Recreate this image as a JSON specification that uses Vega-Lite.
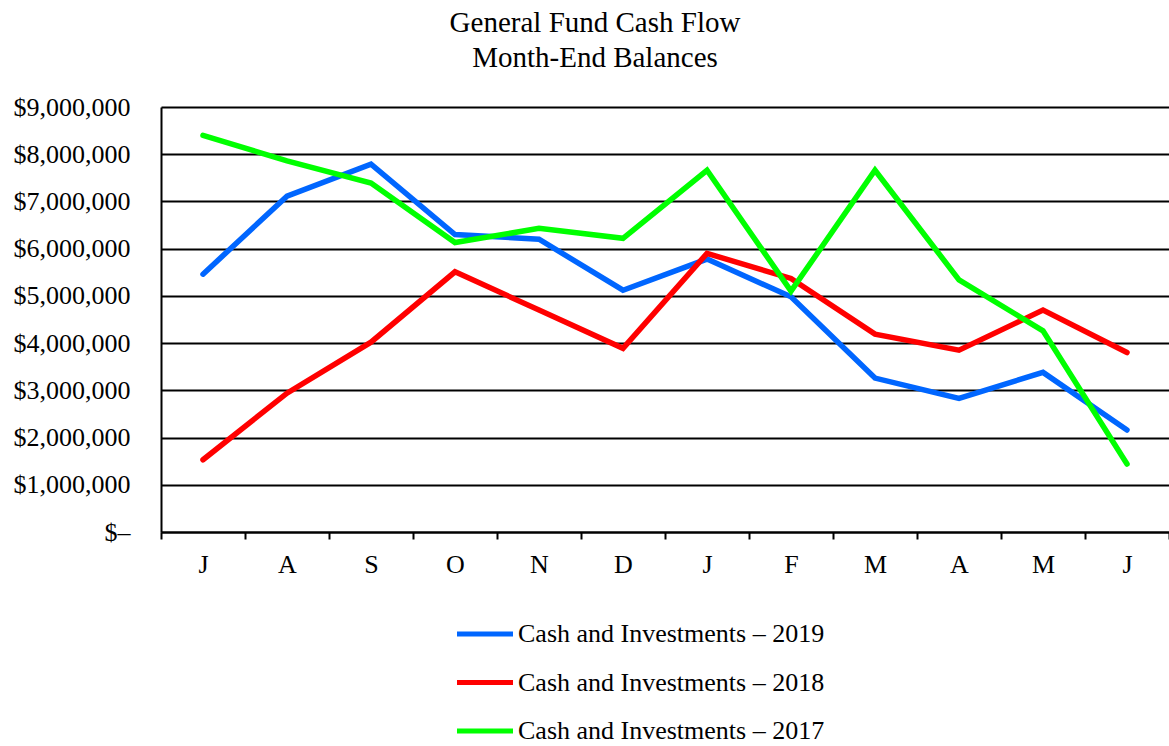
{
  "$schema": "https://vega.github.io/schema/vega-lite/v6.json",
  "width": 1008,
  "height": 425,
  "autosize": {"type": "none"},
  "padding": {"left": 161, "top": 107, "right": 0, "bottom": 214},
  "background": "white",
  "title": {
    "text": ["General Fund Cash Flow", "Month-End Balances"],
    "font": "Liberation Serif",
    "fontSize": 29,
    "fontWeight": "normal",
    "color": "black",
    "lineHeight": 35,
    "anchor": "middle",
    "dx": -70,
    "offset": 21
  },
  "data": {
    "values": [
      {"series": "Cash and Investments – 2019", "month": "Jul", "balance": 5460000},
      {"series": "Cash and Investments – 2019", "month": "Aug", "balance": 7110000},
      {"series": "Cash and Investments – 2019", "month": "Sep", "balance": 7790000},
      {"series": "Cash and Investments – 2019", "month": "Oct", "balance": 6300000},
      {"series": "Cash and Investments – 2019", "month": "Nov", "balance": 6200000},
      {"series": "Cash and Investments – 2019", "month": "Dec", "balance": 5120000},
      {"series": "Cash and Investments – 2019", "month": "Jan", "balance": 5780000},
      {"series": "Cash and Investments – 2019", "month": "Feb", "balance": 4980000},
      {"series": "Cash and Investments – 2019", "month": "Mar", "balance": 3260000},
      {"series": "Cash and Investments – 2019", "month": "Apr", "balance": 2830000},
      {"series": "Cash and Investments – 2019", "month": "May", "balance": 3380000},
      {"series": "Cash and Investments – 2019", "month": "Jun", "balance": 2160000},
      {"series": "Cash and Investments – 2018", "month": "Jul", "balance": 1530000},
      {"series": "Cash and Investments – 2018", "month": "Aug", "balance": 2940000},
      {"series": "Cash and Investments – 2018", "month": "Sep", "balance": 4020000},
      {"series": "Cash and Investments – 2018", "month": "Oct", "balance": 5510000},
      {"series": "Cash and Investments – 2018", "month": "Nov", "balance": 4700000},
      {"series": "Cash and Investments – 2018", "month": "Dec", "balance": 3890000},
      {"series": "Cash and Investments – 2018", "month": "Jan", "balance": 5900000},
      {"series": "Cash and Investments – 2018", "month": "Feb", "balance": 5370000},
      {"series": "Cash and Investments – 2018", "month": "Mar", "balance": 4190000},
      {"series": "Cash and Investments – 2018", "month": "Apr", "balance": 3850000},
      {"series": "Cash and Investments – 2018", "month": "May", "balance": 4700000},
      {"series": "Cash and Investments – 2018", "month": "Jun", "balance": 3800000},
      {"series": "Cash and Investments – 2017", "month": "Jul", "balance": 8400000},
      {"series": "Cash and Investments – 2017", "month": "Aug", "balance": 7860000},
      {"series": "Cash and Investments – 2017", "month": "Sep", "balance": 7390000},
      {"series": "Cash and Investments – 2017", "month": "Oct", "balance": 6130000},
      {"series": "Cash and Investments – 2017", "month": "Nov", "balance": 6430000},
      {"series": "Cash and Investments – 2017", "month": "Dec", "balance": 6220000},
      {"series": "Cash and Investments – 2017", "month": "Jan", "balance": 7660000},
      {"series": "Cash and Investments – 2017", "month": "Feb", "balance": 5100000},
      {"series": "Cash and Investments – 2017", "month": "Mar", "balance": 7660000},
      {"series": "Cash and Investments – 2017", "month": "Apr", "balance": 5340000},
      {"series": "Cash and Investments – 2017", "month": "May", "balance": 4260000},
      {"series": "Cash and Investments – 2017", "month": "Jun", "balance": 1440000}
    ]
  },
  "mark": {"type": "line", "strokeWidth": 5.5, "strokeCap": "round"},
  "encoding": {
    "x": {
      "field": "month",
      "type": "ordinal",
      "sort": ["Jul", "Aug", "Sep", "Oct", "Nov", "Dec", "Jan", "Feb", "Mar", "Apr", "May", "Jun"],
      "scale": {"type": "band", "paddingInner": 0, "paddingOuter": 0},
      "bandPosition": 0.5,
      "axis": {
        "title": null,
        "labelExpr": "isString(datum.value) ? substring(datum.value, 0, 1) : ''",
        "labelAngle": 0,
        "tickBand": "extent",
        "labelFont": "Liberation Serif",
        "labelFontSize": 26,
        "labelColor": "black",
        "labelPadding": 12,
        "tickColor": "black",
        "tickWidth": 2,
        "tickSize": 7,
        "domainColor": "black",
        "domainWidth": 2,
        "grid": false
      }
    },
    "y": {
      "field": "balance",
      "type": "quantitative",
      "scale": {"domain": [0, 9000000], "nice": false},
      "axis": {
        "title": null,
        "values": [0, 1000000, 2000000, 3000000, 4000000, 5000000, 6000000, 7000000, 8000000, 9000000],
        "format": "$,.0f",
        "labelExpr": "datum.value == 0 ? '$–' : datum.label",
        "labelFont": "Liberation Serif",
        "labelFontSize": 26,
        "labelColor": "black",
        "ticks": false,
        "labelPadding": 31,
        "grid": true,
        "gridColor": "black",
        "gridWidth": 2,
        "gridOpacity": 1,
        "domainColor": "black",
        "domainWidth": 2
      }
    },
    "color": {
      "field": "series",
      "type": "nominal",
      "sort": ["Cash and Investments – 2019", "Cash and Investments – 2018", "Cash and Investments – 2017"],
      "scale": {
        "domain": ["Cash and Investments – 2019", "Cash and Investments – 2018", "Cash and Investments – 2017"],
        "range": ["#0066ff", "#ff0000", "#00ff00"]
      },
      "legend": {
        "title": null,
        "orient": "none",
        "legendX": 296,
        "legendY": 514,
        "direction": "vertical",
        "symbolType": "M-4,0H4",
        "symbolSize": 196,
        "symbolStrokeWidth": 5,
        "symbolOffset": 15,
        "labelOffset": 20,
        "rowPadding": 22.5,
        "labelFont": "Liberation Serif",
        "labelFontSize": 26,
        "labelColor": "black",
        "labelLimit": 0,
        "padding": 0
      }
    }
  },
  "config": {
    "view": {"stroke": null}
  }
}
